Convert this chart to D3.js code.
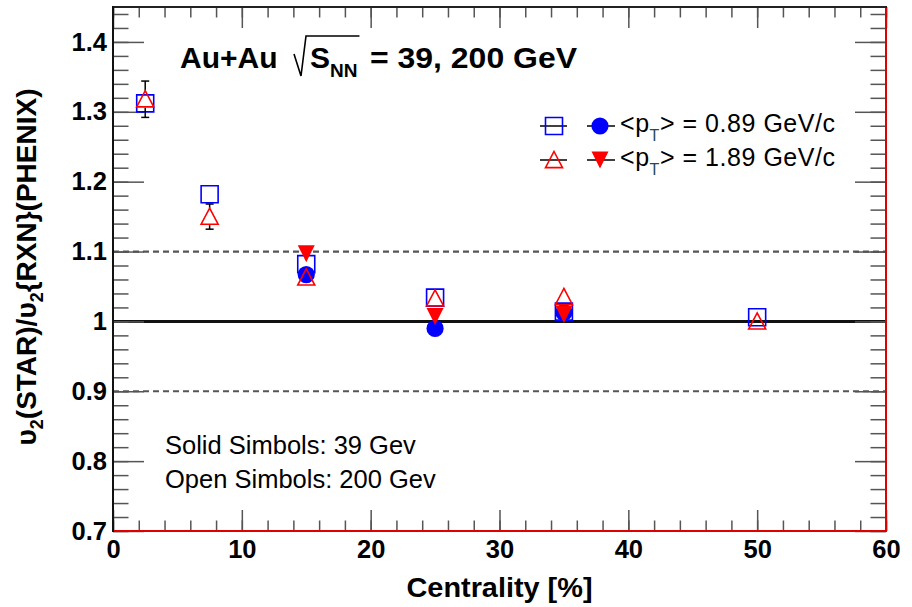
<!DOCTYPE html>
<html>
<head>
<meta charset="utf-8">
<script src="https://cdn.jsdelivr.net/npm/d3@7"></script>
<style>
  html, body { margin: 0; padding: 0; background: #fff; }
  svg { display: block; font-family: "Liberation Sans", Arial, Helvetica, sans-serif; }
</style>
</head>
<body>
<svg id="chart" width="912" height="607"></svg>
<script>
// Centrality bins [%]
const centrality200 = [2.5, 7.5, 15, 25, 35, 50];
const centrality39 = [15, 25, 35];

// v2(STAR) / v2{RXN}(PHENIX)
const ratio200Low  = [1.312, 1.182, 1.082, 1.034, 1.014, 1.006]; // <pT> = 0.89 GeV/c, 200 GeV
const ratio200High = [1.318, 1.150, 1.063, 1.033, 1.035, 1.000]; // <pT> = 1.89 GeV/c, 200 GeV
const error200High = [0.026, 0.018, 0, 0, 0, 0];
const ratio39Low   = [1.067, 0.990, 1.013];                      // <pT> = 0.89 GeV/c, 39 GeV
const ratio39High  = [1.097, 1.007, 1.010];                      // <pT> = 1.89 GeV/c, 39 GeV

// Axis ticks and reference levels
const xTicks = [0, 10, 20, 30, 40, 50, 60];
const yTicks = [0.7, 0.8, 0.9, 1.0, 1.1, 1.2, 1.3, 1.4];
const xMinorTicks = d3.range(0, 61, 2);
const yMinorTicks = d3.range(0, 38).map(i => +(0.7 + i * 0.02).toFixed(2));
const unityLine = 1.0;
const dashedLines = [0.9, 1.1];
const legendPt = ["0.89", "1.89"];

const W = 912, H = 607;
const frame = { left: 113, right: 886, top: 7, bottom: 531 };
const blue = "#0000ff", red = "#ff0000";

const svg = d3.select("#chart");
const x = d3.scaleLinear().domain([0, 60]).range([frame.left, frame.right]);
const y = d3.scaleLinear().domain([0.7, 1.45]).range([frame.bottom, frame.top]);

// ---- marker shapes (size = side length squared) ----
const squareShape = { draw(c, size) { const s = Math.sqrt(size) / 2; c.rect(-s, -s, 2 * s, 2 * s); } };
const triUpShape = { draw(c, size) { const s = Math.sqrt(size) / 2; c.moveTo(0, -s); c.lineTo(s, s * 0.9); c.lineTo(-s, s * 0.9); c.closePath(); } };
const triDownShape = { draw(c, size) { const s = Math.sqrt(size) / 2; c.moveTo(-s, -s); c.lineTo(s, -s); c.lineTo(0, s); c.closePath(); } };
const markers = {
  openSquare: { path: d3.symbol(squareShape, 17 * 17)(), fill: "none", stroke: blue },
  fullCircle: { path: d3.symbol(d3.symbolCircle, Math.PI * 8.6 * 8.6)(), fill: blue, stroke: "none" },
  openTriUp: { path: d3.symbol(triUpShape, 17 * 17)(), fill: "none", stroke: red },
  fullTriDown: { path: d3.symbol(triDownShape, 17 * 17)(), fill: red, stroke: "none" }
};

// ---- reference lines ----
svg.append("g").selectAll("line").data(dashedLines).join("line")
  .attr("x1", x(0)).attr("x2", x(60))
  .attr("y1", d => y(d)).attr("y2", d => y(d))
  .attr("stroke", "#555").attr("stroke-width", 2.2).attr("stroke-dasharray", "6,4");
svg.append("line")
  .attr("x1", x(0)).attr("x2", x(60))
  .attr("y1", y(unityLine)).attr("y2", y(unityLine))
  .attr("stroke", "#111").attr("stroke-width", 3);

// ---- axes ----
const tickStyle = g => {
  g.select(".domain").remove();
  g.selectAll(".tick line").attr("stroke", "#555").attr("stroke-width", 1.5);
};
svg.append("g").attr("transform", `translate(0,${frame.bottom})`)
  .call(d3.axisBottom(x).tickValues(xMinorTicks).tickSize(-10.5).tickFormat(""))
  .call(tickStyle);
svg.append("g").attr("transform", `translate(0,${frame.top})`)
  .call(d3.axisTop(x).tickValues(xMinorTicks).tickSize(-10.5).tickFormat(""))
  .call(tickStyle);
svg.append("g").attr("transform", `translate(0,${frame.top})`)
  .call(d3.axisTop(x).tickValues(xTicks).tickSize(-21).tickFormat(""))
  .call(tickStyle);
svg.append("g").attr("transform", `translate(${frame.left},0)`)
  .call(d3.axisLeft(y).tickValues(yMinorTicks).tickSize(-15.5).tickFormat(""))
  .call(tickStyle);
svg.append("g").attr("transform", `translate(${frame.right},0)`)
  .call(d3.axisRight(y).tickValues(yMinorTicks).tickSize(-15.5).tickFormat(""))
  .call(tickStyle);
svg.append("g").attr("transform", `translate(${frame.right},0)`)
  .call(d3.axisRight(y).tickValues(yTicks).tickSize(-31).tickFormat(""))
  .call(tickStyle);

const xAxis = svg.append("g").attr("transform", `translate(0,${frame.bottom})`)
  .call(d3.axisBottom(x).tickValues(xTicks).tickSize(-21).tickPadding(9).tickFormat(d => String(d)))
  .call(tickStyle);
xAxis.selectAll("text").attr("font-size", 25.5).attr("font-weight", "bold").attr("fill", "#000")
  .attr("font-family", "Liberation Sans, Arial, sans-serif");

const yAxis = svg.append("g").attr("transform", `translate(${frame.left},0)`)
  .call(d3.axisLeft(y).tickValues(yTicks).tickSize(-31).tickPadding(6).tickFormat(d => String(+d.toFixed(2))))
  .call(tickStyle);
yAxis.selectAll("text").attr("font-size", 25.5).attr("font-weight", "bold").attr("fill", "#000")
  .attr("font-family", "Liberation Sans, Arial, sans-serif");

// ---- frame: black left/top, red bottom/right ----
const frameEdges = [
  { x1: frame.left, y1: frame.bottom, x2: frame.right, y2: frame.bottom, c: "#e00000" },
  { x1: frame.right, y1: frame.bottom, x2: frame.right, y2: frame.top, c: "#e00000" },
  { x1: frame.left, y1: frame.top, x2: frame.right, y2: frame.top, c: "#222" },
  { x1: frame.left, y1: frame.bottom, x2: frame.left, y2: frame.top, c: "#111" }
];
svg.append("g").selectAll("line").data(frameEdges).join("line")
  .attr("x1", d => d.x1).attr("y1", d => d.y1).attr("x2", d => d.x2).attr("y2", d => d.y2)
  .attr("stroke", d => d.c).attr("stroke-width", 2).attr("stroke-linecap", "square");

// ---- data markers ----
function drawSeries(xs, ys, m) {
  svg.append("g").selectAll("path").data(d3.zip(xs, ys)).join("path")
    .attr("transform", d => `translate(${x(d[0])},${y(d[1])})`)
    .attr("d", m.path)
    .attr("fill", m.fill).attr("stroke", m.stroke).attr("stroke-width", 1.6);
}

drawSeries(centrality200, ratio200Low, markers.openSquare);
drawSeries(centrality39, ratio39Low, markers.fullCircle);

// error bars for the 1.89 GeV/c, 200 GeV points (gap left around the marker)
const gap = 8.5;
const errG = svg.append("g").attr("stroke", "#000").attr("stroke-width", 1.5);
d3.zip(centrality200, ratio200High, error200High).filter(d => d[2] > 0).forEach(([cx, v, e]) => {
  const px = x(cx), py = y(v), top = y(v + e), bot = y(v - e);
  if (py - top > gap) {
    errG.append("line").attr("x1", px).attr("x2", px).attr("y1", top).attr("y2", py - gap);
    errG.append("line").attr("x1", px - 4).attr("x2", px + 4).attr("y1", top).attr("y2", top);
  }
  if (bot - py > gap) {
    errG.append("line").attr("x1", px).attr("x2", px).attr("y1", py + gap).attr("y2", bot);
    errG.append("line").attr("x1", px - 4).attr("x2", px + 4).attr("y1", bot).attr("y2", bot);
  }
});

drawSeries(centrality200, ratio200High, markers.openTriUp);
drawSeries(centrality39, ratio39High, markers.fullTriDown);

// ---- title ----
const titleSize = 30;
const title = svg.append("g").attr("font-weight", "bold").attr("fill", "#000");
title.append("text").attr("x", 180).attr("y", 68).attr("font-size", titleSize).text("Au+Au");
const sText = title.append("text").attr("x", 310).attr("y", 68).attr("font-size", titleSize).text("S");
const sEnd = 310 + sText.node().getComputedTextLength();
const nnText = title.append("text").attr("x", sEnd).attr("y", 77).attr("font-size", 19).text("NN");
const nnEnd = sEnd + nnText.node().getComputedTextLength();
title.append("text").attr("x", 370).attr("y", 68).attr("font-size", titleSize)
  .attr("textLength", 207).attr("lengthAdjust", "spacingAndGlyphs")
  .text("= 39, 200 GeV");
title.append("path")
  .attr("d", `M294,54L301,76L306,36H${nnEnd + 2}`)
  .attr("fill", "none").attr("stroke", "#000").attr("stroke-width", 1.6);

// ---- axis titles ----
svg.append("text")
  .attr("x", (frame.left + frame.right) / 2).attr("y", 597)
  .attr("text-anchor", "middle").attr("font-size", 27.5).attr("font-weight", "bold")
  .attr("textLength", 186).attr("lengthAdjust", "spacingAndGlyphs")
  .text("Centrality [%]");

const yTitle = svg.append("text")
  .attr("transform", `translate(36,267) rotate(-90)`)
  .attr("text-anchor", "middle").attr("font-size", 28).attr("font-weight", "bold");
yTitle.append("tspan").text("\u03c5");
yTitle.append("tspan").attr("font-size", 18).attr("dy", 7).text("2");
yTitle.append("tspan").attr("dy", -7).text("(STAR)/\u03c5");
yTitle.append("tspan").attr("font-size", 18).attr("dy", 7).text("2");
yTitle.append("tspan").attr("dy", -7).text("{RXN}(PHENIX)");

// ---- legend ----
const legendRows = [
  { pt: legendPt[0], open: markers.openSquare, solid: markers.fullCircle, y: 126, base: 132 },
  { pt: legendPt[1], open: markers.openTriUp, solid: markers.fullTriDown, y: 160, base: 166 }
];
const legend = svg.append("g");
legendRows.forEach(r => {
  [[540, 567], [587, 615]].forEach(([x1, x2]) => {
    legend.append("line").attr("x1", x1).attr("x2", x2).attr("y1", r.y).attr("y2", r.y)
      .attr("stroke", "#000").attr("stroke-width", 1.5);
  });
  [[554, r.open], [600, r.solid]].forEach(([cx, m]) => {
    legend.append("path").attr("transform", `translate(${cx},${r.y})`).attr("d", m.path)
      .attr("fill", m.fill).attr("stroke", m.stroke).attr("stroke-width", 1.6);
  });
  const t = legend.append("text").attr("x", 620).attr("y", r.base).attr("font-size", 25)
    .attr("textLength", 215).attr("lengthAdjust", "spacing");
  t.append("tspan").text("<p");
  t.append("tspan").attr("font-size", 16).attr("dy", 9).attr("fill", "#1f4a57").text("T");
  t.append("tspan").attr("dy", -9).text(`> = ${r.pt} GeV/c`);
});

// ---- notes ----
const notes = ["Solid Simbols: 39 Gev", "Open Simbols: 200 Gev"];
svg.append("g").selectAll("text").data(notes).join("text")
  .attr("x", 165).attr("y", (d, i) => 454 + i * 33.5)
  .attr("font-size", 25.5).text(d => d);
</script>
</body>
</html>
